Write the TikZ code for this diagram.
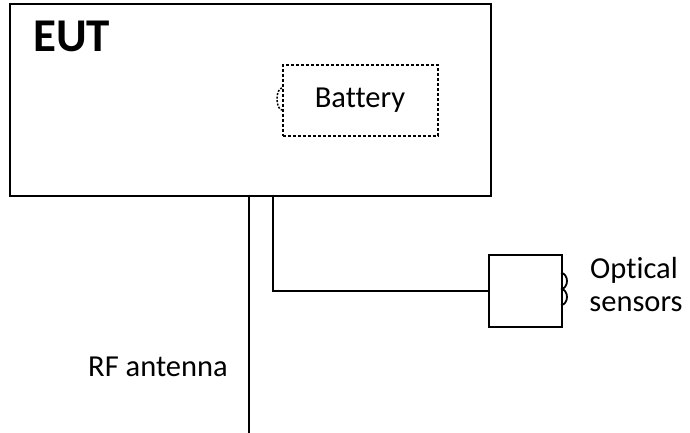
\documentclass[tikz,border=0pt]{standalone}
\usepackage{fontspec}
\setmainfont[Ligatures={NoCommon}]{Carlito}
\begin{document}
\begin{tikzpicture}[x=1pt,y=-1pt,
  box/.style={draw,line width=2pt},
  dbox/.style={draw,line width=1.8pt,dash pattern=on 3pt off 2pt},
  wire/.style={draw,line width=2pt},
  lbl/.style={font=\fontsize{30.5}{34}\selectfont,inner sep=0pt}]
\useasboundingbox (0,0) rectangle (690,433);
\node[box,minimum width=481pt,minimum height=191pt,anchor=north west,inner sep=0pt] (eut) at (9,3.5) {};
\node[anchor=west,inner sep=0pt,font=\fontsize{47}{52}\selectfont\bfseries] (euttxt) at (33,36) {EUT};
\node[dbox,minimum width=155pt,minimum height=71pt,anchor=north west,inner sep=0pt] (bat) at (282,64) {};
\node[lbl] (battxt) at (360,100) {Battery};
\draw[line width=1.5pt,dash pattern=on 2pt off 1.5pt] (282,88) arc[start angle=90,end angle=270,x radius=5pt,y radius=11pt];
\coordinate (antend) at (249,433);
\coordinate (antstart) at (249,194.5);
\draw[wire] (antstart) -- (antend);
\node[box,minimum width=73pt,minimum height=72pt,anchor=north west,inner sep=0pt] (sens) at (488,254) {};
\coordinate (cabstart) at (273,194.5);
\draw[wire] (cabstart) |- (sens.west |- 0,291);
\draw[line width=1.8pt] (561,273) arc[start angle=90,end angle=-90,x radius=6pt,y radius=8pt];
\draw[line width=1.8pt] (561,289) arc[start angle=90,end angle=-90,x radius=6pt,y radius=8pt];
\node[lbl] (opt) at (634,270) {Optical};
\node[lbl] (sns) at (636,304) {sensors};
\node[lbl] (rf) at (158,367) {RF antenna};
\end{tikzpicture}
\end{document}
